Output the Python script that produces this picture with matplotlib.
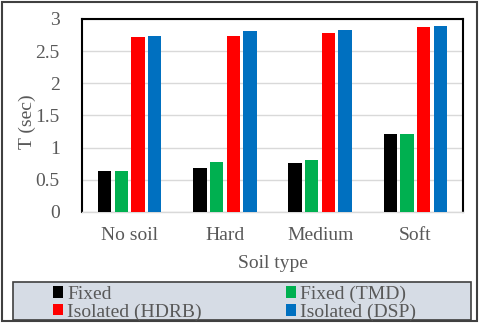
import matplotlib
matplotlib.use("Agg")
import matplotlib.pyplot as plt
from matplotlib.patches import Rectangle
import numpy as np

plt.rcParams['font.family'] = ['Liberation Serif', 'DejaVu Serif']

# data
soil_types = ["No soil", "Hard", "Medium", "Soft"]
fixed = [0.63, 0.68, 0.76, 1.22]
fixed_tmd = [0.63, 0.77, 0.81, 1.22]
iso_hdrb = [2.72, 2.74, 2.79, 2.88]
iso_dsp = [2.73, 2.81, 2.83, 2.89]
series_names = ["Fixed", "Fixed (TMD)", "Isolated (HDRB)", "Isolated (DSP)"]
yticks = [0, 0.5, 1, 1.5, 2, 2.5, 3]

colors = ["#000000", "#00b050", "#ff0000", "#0070c0"]
txt = "#595959"
fs = 14

fig = plt.figure(figsize=(4.8, 3.23), dpi=100)
ax = fig.add_axes([0.1708, 0.3437, 0.7938, 0.5975])

x = np.arange(len(soil_types))
w = 0.14
offs = [-0.2625, -0.0875, 0.0875, 0.2625]
bars = []
for vals, off, c, name in zip([fixed, fixed_tmd, iso_hdrb, iso_dsp], offs, colors, series_names):
    b = ax.bar(x + off, vals, width=w, color=c, label=name, zorder=3)
    bars.append(b)

ax.set_xlim(-0.5, 3.5)
ax.set_ylim(0, 3)
ax.set_yticks(yticks)
ax.set_yticklabels([f"{t:g}" for t in yticks])
ax.set_xticks(x)
ax.set_xticklabels(soil_types)
ax.tick_params(axis='both', length=0, labelsize=fs, colors=txt)
ax.tick_params(axis='y', pad=16)
ax.tick_params(axis='x', pad=11)
ax.yaxis.grid(True, color="#d9d9d9", lw=1, zorder=0)
ax.set_axisbelow(True)

for s in ["left", "top", "right"]:
    ax.spines[s].set_color("black")
    ax.spines[s].set_linewidth(1.5)
ax.spines["bottom"].set_color("#d9d9d9")
ax.spines["bottom"].set_linewidth(1)

ax.set_ylabel("T (sec)", fontsize=fs, color=txt)
ax.yaxis.set_label_coords(-0.12, 0.466)
ax.set_xlabel("Soil type", fontsize=fs, color=txt)
ax.xaxis.set_label_coords(0.5, -0.223)

# legend box
fig.patches.append(Rectangle((0.0277, 0.0093), 0.9535, 0.1186, transform=fig.transFigure,
                             facecolor="#d6dce5", edgecolor="#404040", lw=1.2, zorder=0))
# outer border
fig.patches.append(Rectangle((0.004, 0.006), 0.99, 0.988, transform=fig.transFigure,
                             facecolor="none", edgecolor="#404040", lw=1.5, zorder=0))

handles = [bars[0], bars[2], bars[1], bars[3]]
labels = [series_names[0], series_names[2], series_names[1], series_names[3]]
leg = fig.legend(handles, labels, ncol=2, loc="center", bbox_to_anchor=(0.4885, 0.0610),
                 frameon=False, fontsize=fs, handlelength=0.55, handleheight=0.55,
                 handletextpad=0.2, columnspacing=4.3, labelspacing=0.0, borderpad=0)
for t in leg.get_texts():
    t.set_color(txt)

fig.savefig("out.png", dpi=100)
